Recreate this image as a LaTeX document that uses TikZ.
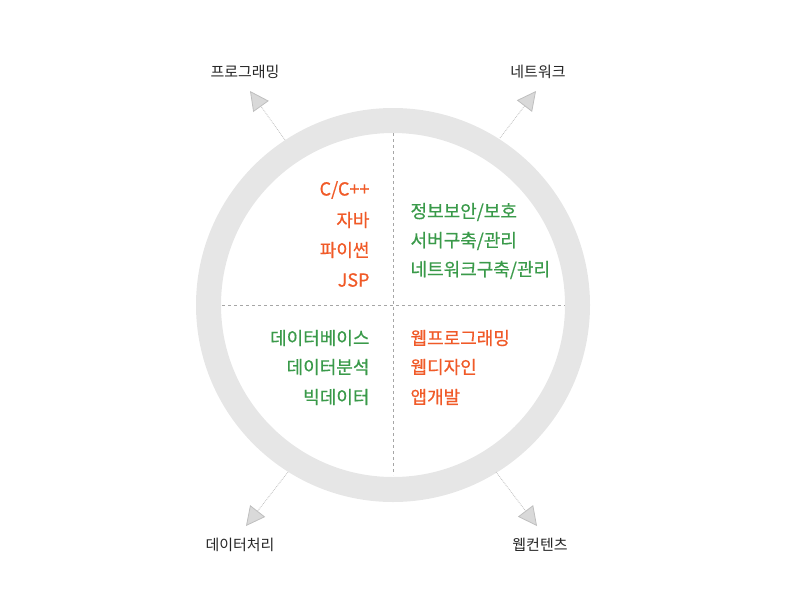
\documentclass[tikz,border=0pt]{standalone}
\usepackage{fontspec}
\setmainfont{Noto Sans CJK KR}
\newfontfamily\medf[FakeBold=0.6]{Noto Sans CJK KR}
\usetikzlibrary{arrows.meta,patterns}
\definecolor{org}{HTML}{F05A28}
\definecolor{grn}{HTML}{3A9A4A}
\definecolor{ring}{HTML}{E6E6E6}
\begin{document}
\begin{tikzpicture}[x=1pt,y=-1pt,
 outer/.style={font=\fontsize{15}{18}\selectfont,text=black!85},
 lt/.style={font=\medf\fontsize{18}{22}\selectfont,anchor=east},
 rt/.style={font=\medf\fontsize{18}{22}\selectfont,anchor=west},
 arr/.style={draw=black!25,densely dotted,thick,-{Triangle[width=19pt,length=19pt,fill=black!15,color=black!25,line width=0.8pt]}}]
\useasboundingbox (0,0) rectangle (786,600);
\draw[ring,line width=25pt] (393,305) circle (184.5);
\draw[black!35,dashed,thin] (393,133) -- (393,475);
\draw[black!35,dashed,thin] (222,305) -- (565,305);
\coordinate (a1) at (285,140); \coordinate (b1) at (250,91);
\coordinate (a2) at (500,138); \coordinate (b2) at (536,91);
\coordinate (a3) at (288,472); \coordinate (b3) at (246,526);
\coordinate (a4) at (496,472); \coordinate (b4) at (537,526);
\foreach \i in {1,...,4} \draw[arr] (a\i) -- (b\i);
\node[outer] (l1) at (245,72) {프로그래밍};
\node[outer] (l2) at (538,72) {네트워크};
\node[outer] (l3) at (240,545) {데이터처리};
\node[outer] (l4) at (540,545) {웹컨텐츠};
\node[lt,text=org] (p1) at (373,190) {C/C++};
\node[lt,text=org] (p2) at (373,220) {자바};
\node[lt,text=org] (p3) at (373,250) {파이썬};
\node[lt,text=org] (p4) at (373,280) {JSP};
\node[rt,text=grn] (n1) at (407,212) {정보보안/보호};
\node[rt,text=grn] (n2) at (407,241) {서버구축/관리};
\node[rt,text=grn] (n3) at (407,270) {네트워크구축/관리};
\node[lt,text=grn] (d1) at (373,338) {데이터베이스};
\node[lt,text=grn] (d2) at (373,367) {데이터분석};
\node[lt,text=grn] (d3) at (373,397) {빅데이터};
\node[rt,text=org] (w1) at (407,338) {웹프로그래밍};
\node[rt,text=org] (w2) at (407,367) {웹디자인};
\node[rt,text=org] (w3) at (407,397) {앱개발};
\end{tikzpicture}
\end{document}
